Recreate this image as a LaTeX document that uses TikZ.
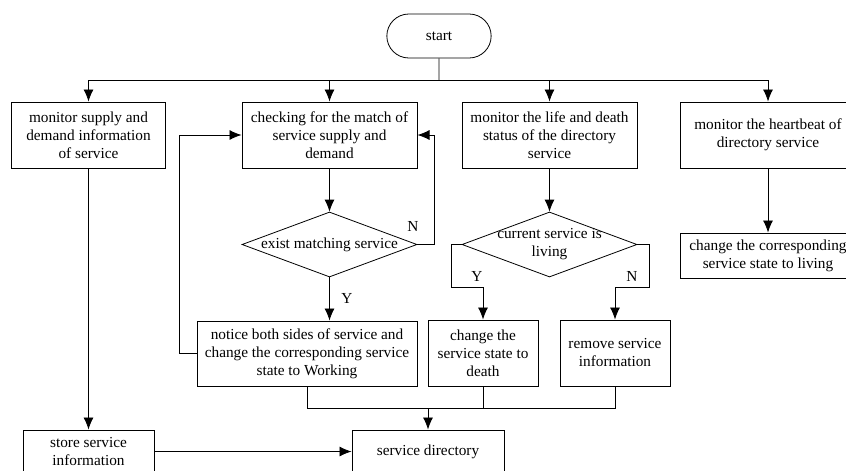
\documentclass[tikz,border=0pt]{standalone}
\usepackage{fontspec}
\setmainfont{Liberation Serif}
\usetikzlibrary{arrows.meta}
\usetikzlibrary{shapes}
\usetikzlibrary{positioning}

\tikzset{
  boite/.style={draw,line width=1pt,align=center,inner sep=2pt,minimum height=66pt},
  losange/.style={draw,diamond,line width=0.8pt,inner sep=0pt,minimum width=175pt,minimum height=65pt},
  fleche/.style={->,line width=0.8pt},
  trait/.style={line width=0.8pt}
}

\begin{document}
\begin{tikzpicture}[x=1pt,y=-1pt,>={Latex[length=12pt,width=10pt]},
  every node/.append style={font=\fontsize{15.3}{18}\selectfont}]
\useasboundingbox (0,0) rectangle (846,471);
\def\ybus{80}

% Depart
\node[draw,rounded rectangle,line width=0.8pt,minimum width=111pt,minimum height=44pt] (start) at (439,36) {start};
\coordinate (bus) at (439,\ybus);

% Les quatre moniteurs
\node[boite,minimum width=154pt] (m1) at (88.5,135) {monitor supply and\\demand information\\of service};
\node[boite,minimum width=175pt] (m2) at (329.5,135) {checking for the match of\\service supply and\\demand};
\node[boite,minimum width=175pt] (m3) at (549.5,135) {monitor the life and death\\status of the directory\\service};
\node[boite,minimum width=176pt] (m4) at (768,135) {monitor the heartbeat of\\directory service};

\draw[trait] (start) -- (bus);
\foreach \m in {m1,m2,m3,m4}{
	\draw[fleche] (bus) -| (\m.north);
}

% Correspondance
\node[losange] (d1) at (329.5,244.5) {};
\node (t1) at (d1) {exist matching service};
\node[boite,minimum width=220pt,minimum height=65pt] (n5) at (307,353.5) {notice both sides of service and\\change the corresponding service\\state to Working};
\draw[fleche] (m2) -- (d1);
\draw[fleche] (d1.east) -- ++(17,0) |- (m2.east);
\node (nn1) at (413,226) {N};
\draw[fleche] (d1.south) -- (d1.south |- n5.north);
\node (ny1) at (347,298) {Y};
\draw[fleche] (n5.west) -- ++(-17,0) |- (m2.west);

% Vie et mort
\node[losange] (d2) at (549.5,244.5) {};
\node[align=center] (t2) at (d2) {current service is\\living};
\node[boite,minimum width=110pt] (n6) at (483,353) {change the\\service state to\\death};
\node[boite,minimum width=110pt] (n7) at (615,353) {remove service\\information};
\draw[fleche] (m3) -- (d2);
\draw[fleche] (d2.west) -- ++(-10,0) -- ++(0,43) -| (n6.north);
\node (ny2) at (477,276) {Y};
\draw[fleche] (d2.east) -- ++(12,0) -- ++(0,43) -| (n7.north);
\node (nn2) at (632,276) {N};

% Battement
\node[boite,minimum width=176pt,minimum height=45pt] (n8) at (768,255.5) {change the corresponding\\service state to living};
\draw[fleche] (m4) -- (n8);

% Annuaire
\node[boite,minimum width=131pt,minimum height=43pt] (s1) at (88.5,451.5) {store service\\information};
\node[boite,minimum width=152pt,minimum height=43pt] (sd) at (428,451.5) {service directory};
\coordinate (j) at (428,408);
\draw[trait] (n5.south) |- (n7.south |- j) -- (n7.south);
\draw[trait] (n6.south) -- (n6.south |- j);
\draw[fleche] (j) -- (sd.north);
\draw[fleche] (m1) -- (s1);
\draw[fleche] (s1) -- (sd);
\end{tikzpicture}
\end{document}
